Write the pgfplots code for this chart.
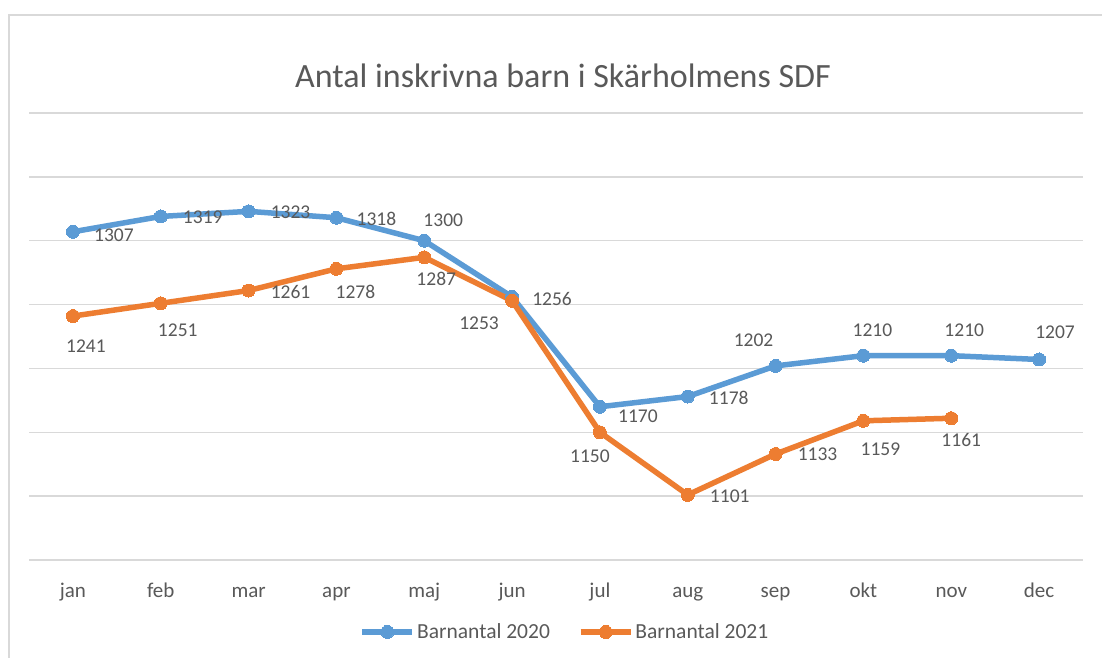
\documentclass[border=0pt]{standalone}
\usepackage{pgfplots}
\pgfplotsset{compat=1.18}
\usepackage{fontspec}
\setmainfont{Carlito}
\definecolor{blueS}{HTML}{5B9BD5}
\definecolor{orangeS}{HTML}{ED7D31}
\definecolor{txt}{HTML}{595959}
\definecolor{gridc}{HTML}{D9D9D9}
\tikzset{lbl/.style={text=txt, font=\fontsize{19.5bp}{24bp}\selectfont, inner sep=0pt}}
\newcommand\lab[4]{\node[lbl,xshift=#3bp,yshift=#4bp] at (axis cs:#1,#2) {#2};}
\begin{document}
\begin{tikzpicture}
\useasboundingbox (0,0) rectangle (1102bp,-658bp);
\clip (0,0) rectangle (1102bp,-658bp);
\fill[white] (0,0) rectangle (1102bp,-658bp);
\draw[gridc, line width=2bp] (9bp,-15bp) rectangle (1130bp,-700bp);
\node[text=txt, font=\fontsize{34bp}{40bp}\selectfont] at (563bp,-76bp) {Antal inskrivna barn i Skärholmens SDF};
\begin{axis}[
  at={(29bp,-560bp)}, anchor=south west,
  scale only axis, width=1054bp, height=447bp,
  xmin=-0.5, xmax=11.5, ymin=1050, ymax=1400,
  ytick={1050,1100,...,1400}, yticklabels={},
  xtick={0,...,11},
  xticklabels={jan,feb,mar,apr,maj,jun,jul,aug,sep,okt,nov,dec},
  ymajorgrids, grid style={gridc, line width=1.5bp},
  axis line style={draw=none},
  major tick length=0pt,
  xticklabel style={anchor=base, yshift=-37bp, text=txt, font=\fontsize{21bp}{25bp}\selectfont},
  legend columns=2,
  legend style={at={(0.5085,-0.161)}, anchor=center, draw=none, fill=none,
    font=\fontsize{21.5bp}{25bp}\selectfont, text=txt,
    nodes={inner sep=2bp},
    /tikz/every even column/.append style={column sep=26bp}},
  legend image code/.code={\draw[mark repeat=2,mark phase=2,#1] plot coordinates {(0bp,0bp) (25bp,0bp) (50bp,0bp)};},
  clip=false,
]
\addplot[blueS, line width=5.5bp, mark=*, mark size=6.5bp, mark options={solid, fill=blueS, draw=blueS, line width=0pt}]
 coordinates {(0,1307) (1,1319) (2,1323) (3,1318) (4,1300) (5,1256) (6,1170) (7,1178) (8,1202) (9,1210) (10,1210) (11,1207)};
\addlegendentry{Barnantal 2020}
\addplot[orangeS, line width=5.5bp, mark=*, mark size=6.5bp, mark options={solid, fill=orangeS, draw=orangeS, line width=0pt}]
 coordinates {(0,1241) (1,1251) (2,1261) (3,1278) (4,1287) (5,1253) (6,1150) (7,1101) (8,1133) (9,1159) (10,1161)};
\addlegendentry{Barnantal 2021}
\lab{0}{1307}{41}{-3}
\lab{1}{1319}{42}{-1}
\lab{2}{1323}{42}{-1}
\lab{3}{1318}{40}{-1}
\lab{4}{1300}{19}{20}
\lab{5}{1256}{40}{-2}
\lab{6}{1170}{38}{-9}
\lab{7}{1178}{41}{-1}
\lab{8}{1202}{-22}{26}
\lab{9}{1210}{9}{25}
\lab{10}{1210}{13}{25}
\lab{11}{1207}{16}{27}
\lab{0}{1241}{13}{-30}
\lab{1}{1251}{17}{-27}
\lab{2}{1261}{42}{-1}
\lab{3}{1278}{19}{-23}
\lab{4}{1287}{12}{-22}
\lab{5}{1253}{-33}{-22}
\lab{6}{1150}{-10}{-24}
\lab{7}{1101}{42}{-1}
\lab{8}{1133}{42}{0}
\lab{9}{1159}{17}{-28}
\lab{10}{1161}{10}{-22}
\end{axis}
\end{tikzpicture}
\end{document}
